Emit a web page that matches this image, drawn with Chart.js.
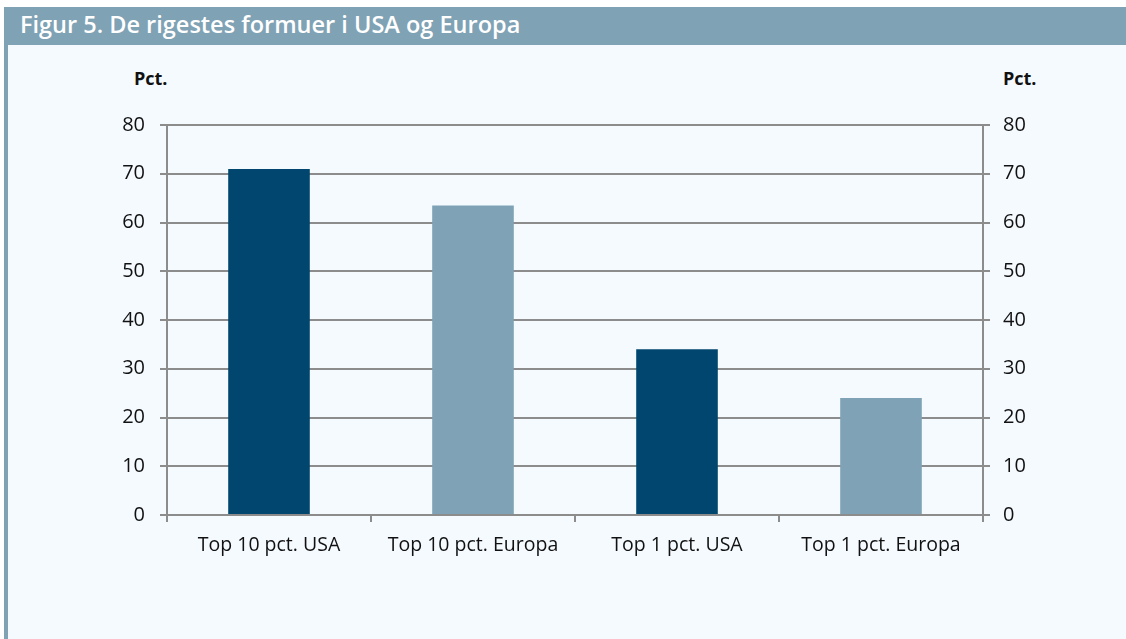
<!DOCTYPE html>
<html>
<head>
<meta charset="utf-8">
<script src="https://cdn.jsdelivr.net/npm/chart.js@4"></script>
<style>
  body { margin:0; background:#fff; width:1126px; height:639px; overflow:hidden; position:relative; font-family: "Open Sans", sans-serif; }
  #head { position:absolute; left:4px; top:7px; width:1122px; height:38px; background:#7fa2b5; }
  #head span { position:absolute; left:16px; top:1px; color:#fff; font-weight:600; font-size:23.5px; white-space:nowrap; }
  #panel { position:absolute; left:4px; top:45px; width:1122px; height:594px; background:#f5faff; border-left:4px solid #7fa2b5; box-sizing:border-box; }
  .unit { position:absolute; top:66px; font-weight:bold; font-size:18px; color:#111; }
  #wrap { position:absolute; left:0; top:45px; width:1126px; height:594px; }
</style>
</head>
<body>
<div id="head"><span>Figur 5. De rigestes formuer i USA og Europa</span></div>
<div id="panel"></div>
<div class="unit" style="left:134px">Pct.</div>
<div class="unit" style="left:1003px">Pct.</div>
<div id="wrap"><canvas id="c" width="1126" height="594"></canvas></div>
<script>
// data
const kategorier = ["Top 10 pct. USA", "Top 10 pct. Europa", "Top 1 pct. USA", "Top 1 pct. Europa"];
const andel = [71, 63.5, 34, 24];
const farver = ["#00466e", "#7fa2b7", "#00466e", "#7fa2b7"];
const yTicks = [0, 10, 20, 30, 40, 50, 60, 70, 80];

const gridFarve = "#8c8c8c";
const tickFont = { family: "'Open Sans', sans-serif", size: 20 };

new Chart(document.getElementById("c"), {
  type: "bar",
  data: {
    labels: kategorier,
    datasets: [{
      data: andel,
      backgroundColor: farver,
      barPercentage: 0.4,
      categoryPercentage: 1
    }]
  },
  options: {
    responsive: false,
    animation: false,
    maintainAspectRatio: false,
    layout: { padding: { top: 80, left: 0, right: 0, bottom: 0 } },
    plugins: { legend: { display: false }, tooltip: { enabled: false } },
    scales: {
      x: {
        offset: true,
        grid: { offset: true, drawOnChartArea: false, color: gridFarve, lineWidth: 2, tickLength: 7 },
        border: { color: gridFarve, width: 2 },
        ticks: { color: "#111", font: { family: tickFont.family, size: 19.5 }, padding: 12, maxRotation: 0 },
        afterFit: s => { s.height = 124; }
      },
      y: {
        position: "left",
        min: 0, max: 80,
        afterBuildTicks: s => { s.ticks = yTicks.map(v => ({ value: v })); },
        grid: { color: gridFarve, lineWidth: 2, tickLength: 7 },
        border: { color: gridFarve, width: 2 },
        ticks: { color: "#111", font: tickFont, padding: 15 },
        afterFit: s => { s.width = 167; }
      },
      y2: {
        position: "right",
        min: 0, max: 80,
        afterBuildTicks: s => { s.ticks = yTicks.map(v => ({ value: v })); },
        grid: { drawOnChartArea: false, color: gridFarve, lineWidth: 2, tickLength: 7 },
        border: { color: gridFarve, width: 2 },
        ticks: { color: "#111", font: tickFont, padding: 13 },
        afterFit: s => { s.width = 143; }
      }
    }
  }
});
</script>
</body>
</html>
